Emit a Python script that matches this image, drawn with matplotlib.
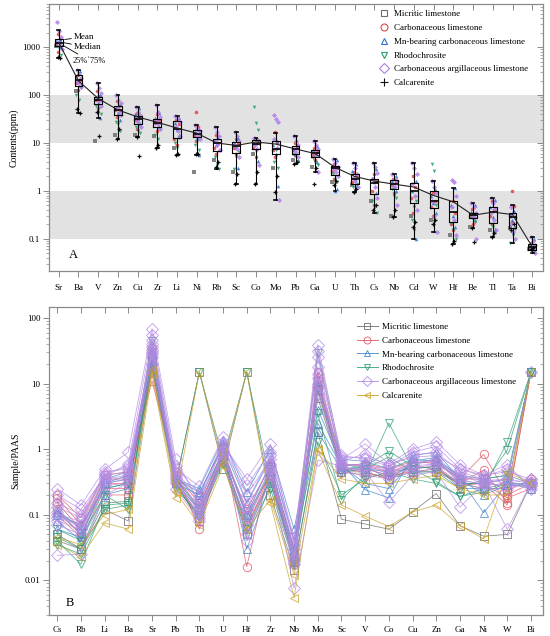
import numpy as np
import matplotlib
matplotlib.use("Agg")
import matplotlib.pyplot as plt
from matplotlib.lines import Line2D
from matplotlib.ticker import FixedLocator, FuncFormatter, LogLocator, NullFormatter

plt.rcParams['font.family'] = ['Liberation Serif', 'DejaVu Serif']
plt.rcParams['font.size'] = 6.5

# ---------------- Panel A data (ppm) ----------------
elems_A = ["Sr", "Ba", "V", "Zn", "Cu", "Zr", "Li", "Ni", "Rb", "Sc", "Co", "Mo", "Pb",
           "Ga", "U", "Th", "Cs", "Nb", "Cd", "W", "Hf", "Be", "Tl", "Ta", "Bi"]

box_q1 = [1080, 158, 65, 39, 25, 22, 12.5, 13.1, 6.9, 6.3, 7.4, 5.9, 5.9, 5.0, 2.1, 1.4,
          0.85, 1.07, 0.56, 0.44, 0.22, 0.27, 0.21, 0.165, 0.058]
box_med = [1250, 205, 80, 48, 32, 26, 20, 15.5, 9.8, 8.7, 9.5, 7.4, 7.4, 6.3, 2.95, 1.8,
           1.45, 1.36, 0.98, 0.6, 0.37, 0.31, 0.36, 0.29, 0.068]
box_q3 = [1470, 264, 93, 59, 36, 32, 29, 18.7, 12, 10.5, 11.5, 11, 8.7, 7.1, 3.3, 2.2,
          1.8, 1.68, 1.48, 0.98, 0.6, 0.34, 0.46, 0.34, 0.076]
box_lo = [590, 42, 34, 12, 13.6, 7.8, 5.6, 5.6, 2.8, 1.4, 1.4, 0.65, 3.6, 2.5, 1.0, 0.93,
          0.34, 0.28, 0.097, 0.14, 0.077, 0.165, 0.11, 0.08, 0.05]
box_hi = [2300, 336, 177, 100, 57, 62, 36, 24, 22, 17, 13, 16, 14, 11, 4.6, 3.9,
          3.9, 2.2, 3.8, 1.6, 1.15, 0.56, 0.71, 0.5, 0.11]
box_mean = [1250, 198, 85, 49, 35, 27, 20.5, 16, 10, 8.9, 10.5, 9.5, 7.5, 6.0, 3.1, 2.0,
            1.6, 1.38, 1.2, 0.8, 0.59, 0.31, 0.36, 0.32, 0.068]

# sample values per lithology (rows = samples, columns = elems_A)
A_micritic = [
    [1050, 120, 11, 15, 15, 14, 8, 2.5, 4.5, 2.5, 6, 3, 4.5, 3.2, 1.5, 1.3, 0.6, 0.3, 0.3, 0.25, 0.12, 0.18, 0.15, 0.17, 0.062],
]
A_carb = [
    [1900, 260, 120, 75, 42, 40, 30, 44, 15, 12, 12, 17, 10, 8, 3.6, 2.5, 2.2, 1.8, 2.0, 0.9, 0.6, 0.42, 0.6, 1.0, 0.08],
    [1500, 210, 95, 60, 35, 30, 25, 22, 10, 9.5, 10, 10, 8, 6.5, 3.0, 2.0, 1.6, 1.5, 1.2, 0.6, 0.35, 0.33, 0.4, 0.48, 0.07],
    [1200, 180, 80, 50, 30, 26, 12, 15, 8, 8, 8, 7, 7, 5.5, 2.6, 1.5, 1.0, 1.3, 0.7, 0.45, 0.2, 0.3, 0.3, 0.3, 0.065],
    [800, 130, 55, 35, 20, 18, 9, 11, 6, 6, 5, 5, 5.5, 4.5, 1.8, 0.93, 0.5, 0.9, 0.35, 0.3, 0.15, 0.2, 0.2, 0.22, 0.06],
]
A_mn = [
    [1450, 320, 100, 65, 55, 42, 33, 19, 13, 13, 11, 11, 9, 8.5, 4.5, 3.6, 2.8, 2.0, 1.6, 1.1, 1.15, 0.5, 0.65, 0.38, 0.1],
    [1350, 250, 85, 55, 40, 33, 26, 16, 11, 10, 9.5, 9, 7.5, 7, 3.3, 2.6, 1.9, 1.6, 1.0, 0.8, 0.5, 0.36, 0.45, 0.3, 0.075],
    [1150, 190, 70, 42, 32, 27, 20, 13, 9, 8.5, 7.5, 6, 6, 6, 1.0, 1.8, 1.5, 1.2, 0.5, 0.55, 0.3, 0.3, 0.28, 0.25, 0.065],
    [1000, 160, 34, 30, 25, 22, 15, 5.6, 7, 3, 4.2, 1.25, 4.5, 4, 1.1, 1.3, 0.9, 1.0, 0.097, 0.35, 0.18, 0.25, 0.16, 0.18, 0.055],
]
A_rhodo = [
    [1250, 100, 60, 28, 22, 15, 10, 9, 5, 2.8, 57, 4, 6, 4.8, 2.2, 1.2, 0.6, 1.1, 0.25, 3.6, 0.2, 0.29, 0.2, 0.08, 0.07],
    [950, 80, 45, 25, 18, 12, 8, 11, 3.5, 5, 26, 7, 5, 4, 1.8, 1.0, 0.45, 0.8, 0.15, 2.6, 0.15, 0.26, 0.18, 0.12, 0.06],
    [700, 140, 40, 18, 16, 20, 13, 7, 2.8, 6.5, 19, 3, 4, 3.5, 1.5, 1.4, 0.34, 0.7, 0.6, 0.5, 0.1, 0.22, 0.14, 0.16, 0.055],
]
A_argil = [
    [3330, 330, 177, 100, 57, 62, 36, 24, 22, 17, 13, 38, 14, 11, 4.6, 3.9, 3.9, 2.2, 3.8, 1.6, 1.7, 0.56, 0.71, 0.45, 0.11],
    [2200, 280, 140, 80, 45, 45, 32, 20, 17, 14, 12, 32, 11, 9, 3.8, 3.0, 3.2, 1.9, 3.0, 1.2, 1.5, 0.45, 0.55, 0.35, 0.09],
    [1600, 230, 110, 70, 38, 35, 28, 18, 14, 11, 10, 28, 9, 7.5, 3.2, 2.3, 2.4, 1.6, 2.2, 0.9, 0.8, 0.35, 0.42, 0.28, 0.075],
    [1300, 200, 90, 55, 33, 30, 22, 16, 11, 9, 9, 12, 7.5, 6.5, 2.9, 1.9, 1.8, 1.4, 1.4, 0.6, 0.45, 0.31, 0.35, 0.2, 0.068],
    [1100, 175, 75, 45, 28, 25, 18, 14, 9, 7.5, 7.5, 8, 6.5, 5.5, 2.5, 1.6, 1.2, 1.2, 0.8, 0.3, 0.25, 0.28, 0.25, 0.14, 0.06],
    [900, 150, 60, 38, 22, 20, 14, 12, 7, 5, 3.5, 0.65, 5, 2.5, 2.0, 1.2, 0.7, 0.5, 0.4, 0.14, 0.12, 0.1, 0.15, 0.1, 0.05],
]
A_calc = [
    [620, 52, 45, 12, 13.6, 7.8, 5.6, 6, 3.2, 1.4, 1.4, 0.93, 3.6, 1.4, 1.3, 0.95, 0.4, 0.28, 0.18, 0.2, 0.077, 0.165, 0.11, 0.15, 0.06],
    [590, 42, 14, 20, 5.4, 9, 6, 5.8, 4, 2.3, 2.5, 2, 4, 3, 1.6, 1.1, 0.5, 0.4, 0.22, 0.25, 0.09, 0.085, 0.13, 0.2, 0.065],
]

# ---------------- Panel B data (sample / PAAS) ----------------
elems_B = ["Cs", "Rb", "Li", "Ba", "Sr", "Pb", "Th", "U", "Hf", "Zr", "Nb", "Mo", "Sc",
           "V", "Co", "Cu", "Zn", "Ga", "Ni", "W", "Bi"]

B_micritic = [
    [0.05, 0.03, 0.12, 0.08, 18, 0.3, 15, 0.5, 15, 0.2, 0.0145, 1.8, 0.085, 0.072, 0.06, 0.11, 0.21, 0.068, 0.047, 0.05, 0.3],
    [0.04, 0.03, 0.15, 0.16, 22, 0.3, 0.08, 0.7, 0.05, 0.35, 0.02, 6, 0.45, 0.45, 0.35, 0.45, 0.45, 0.3, 0.25, 0.25, 15],
]
B_carb = [
    [0.2, 0.09, 0.4, 0.45, 11, 0.45, 0.06, 1.1, 0.016, 0.6, 0.02, 15, 0.6, 0.55, 0.45, 0.6, 0.65, 0.35, 0.83, 0.2, 0.3],
    [0.15, 0.06, 0.3, 0.3, 16, 0.3, 0.1, 0.9, 0.06, 0.45, 0.018, 9, 0.5, 0.45, 0.35, 0.5, 0.55, 0.3, 0.48, 0.15, 15],
    [0.12, 0.05, 0.25, 0.25, 20, 0.35, 0.13, 1.0, 0.1, 0.4, 0.025, 11, 0.45, 0.4, 0.4, 0.45, 0.5, 0.28, 0.3, 0.18, 0.25],
    [0.18, 0.07, 0.35, 0.35, 35, 0.4, 0.15, 0.8, 0.12, 0.55, 0.03, 12, 0.55, 0.6, 0.5, 0.65, 0.6, 0.35, 0.35, 0.23, 0.35],
    [0.1, 0.045, 0.2, 0.2, 26, 0.3, 0.09, 0.75, 0.07, 0.35, 0.022, 8, 0.5, 0.5, 0.4, 0.55, 0.5, 0.3, 0.3, 0.14, 15],
]
B_mn = [
    [0.11, 0.05, 0.3, 0.4, 28, 0.35, 0.25, 1.4, 0.22, 1.0, 0.06, 4, 0.6, 0.24, 0.18, 0.8, 0.9, 0.35, 0.107, 0.3, 0.3],
    [0.1, 0.07, 0.25, 0.3, 30, 0.3, 0.2, 1.2, 0.03, 0.3, 0.03, 1.8, 0.5, 0.55, 0.35, 0.6, 0.7, 0.3, 0.3, 0.35, 15],
    [0.08, 0.04, 0.2, 0.25, 24, 0.3, 0.12, 0.7, 0.08, 0.45, 0.022, 11, 0.45, 0.5, 0.45, 0.5, 0.55, 0.25, 0.25, 0.3, 0.25],
    [0.06, 0.045, 0.3, 0.35, 32, 0.4, 0.17, 0.9, 0.1, 0.6, 0.028, 9, 0.7, 0.65, 0.5, 0.7, 0.65, 0.4, 0.35, 0.4, 0.3],
    [0.12, 0.06, 0.35, 0.45, 22, 0.35, 0.22, 1.1, 0.15, 0.7, 0.04, 2.5, 0.55, 0.3, 0.25, 0.65, 0.75, 0.35, 0.2, 0.28, 0.28],
]
B_rhodo = [
    [0.04, 0.0175, 0.14, 0.15, 22, 0.3, 15, 0.7, 15, 0.3, 0.02, 3.5, 0.17, 0.4, 2.5, 0.5, 0.32, 0.19, 0.25, 1.3, 15],
    [0.045, 0.03, 0.2, 0.12, 30, 0.25, 0.1, 0.8, 0.06, 0.35, 0.02, 8, 0.45, 0.55, 0.93, 0.55, 0.5, 0.3, 0.3, 0.97, 15],
    [0.06, 0.04, 0.25, 0.3, 45, 0.35, 0.12, 1.0, 0.09, 0.5, 0.025, 29, 0.6, 0.5, 0.76, 0.45, 0.45, 0.25, 0.35, 0.4, 15],
    [0.035, 0.025, 0.12, 0.14, 18, 0.28, 0.09, 0.6, 0.05, 0.25, 0.018, 1.3, 0.2, 0.35, 0.45, 0.35, 0.3, 0.19, 0.22, 0.3, 0.28],
]
B_argil = [
    [0.25, 0.14, 0.49, 0.9, 69, 0.7, 0.15, 1.2, 0.35, 1.2, 0.035, 39, 0.7, 1.2, 0.6, 1.0, 1.3, 0.58, 0.4, 0.58, 0.25],
    [0.024, 0.025, 0.2, 0.3, 46, 0.5, 0.27, 1.55, 0.15, 0.8, 0.03, 31, 0.8, 0.7, 0.55, 0.8, 0.9, 0.45, 0.35, 0.3, 0.35],
    [0.1, 0.08, 0.4, 0.45, 36, 0.4, 0.12, 1.0, 0.1, 0.6, 0.025, 12, 0.6, 0.55, 0.5, 0.6, 0.7, 0.4, 0.3, 0.35, 0.3],
    [0.13, 0.09, 0.35, 0.4, 28, 0.35, 0.09, 0.8, 0.07, 0.5, 0.02, 9, 0.5, 0.5, 0.4, 0.5, 0.6, 0.35, 0.28, 0.3, 0.28],
    [0.09, 0.07, 0.45, 0.5, 25, 0.3, 0.1, 0.95, 0.05, 0.4, 0.0075, 0.68, 0.55, 0.45, 0.155, 0.4, 0.45, 0.13, 0.3, 0.06, 0.3],
    [0.07, 0.05, 0.3, 0.35, 20, 0.25, 0.08, 0.7, 0.04, 0.35, 0.018, 7, 0.45, 0.4, 0.35, 0.45, 0.5, 0.3, 0.25, 0.25, 0.32],
    [0.15, 0.1, 0.42, 0.55, 32, 0.45, 0.18, 1.1, 0.2, 0.7, 0.04, 18, 0.75, 0.75, 0.6, 0.75, 0.8, 0.5, 0.4, 0.45, 0.35],
    [0.11, 0.06, 0.28, 0.3, 40, 0.38, 0.13, 0.85, 0.12, 0.55, 0.023, 14, 0.55, 0.6, 0.45, 0.55, 0.6, 0.38, 0.33, 0.35, 15],
    [0.2, 0.12, 0.38, 0.6, 55, 0.55, 0.2, 1.3, 0.28, 0.9, 0.045, 25, 0.65, 0.85, 0.55, 0.9, 1.1, 0.5, 0.38, 0.5, 0.3],
    [0.08, 0.06, 0.33, 0.38, 30, 0.33, 0.11, 0.9, 0.09, 0.45, 0.021, 10, 0.6, 0.55, 0.42, 0.6, 0.65, 0.33, 0.3, 0.28, 0.27],
]
B_calc = [
    [0.035, 0.023, 0.075, 0.06, 14, 0.18, 15, 0.6, 15, 0.15, 0.0054, 0.97, 0.14, 0.095, 0.066, 0.11, 0.14, 0.068, 0.043, 0.45, 0.3],
    [0.045, 0.035, 0.1, 0.12, 16, 0.22, 0.07, 0.55, 0.06, 0.17, 0.012, 1.0, 0.35, 0.3, 0.3, 0.35, 0.4, 0.25, 0.2, 0.2, 15],
]

lith_names = ["Micritic limestone", "Carbonaceous limestone", "Mn-bearing carbonaceous limestone",
              "Rhodochrosite", "Carbonaceous argillaceous limestone", "Calcarenite"]

colA = ['#6e6e6e', '#e2434b', '#2f6fd2', '#27a065', '#b080e8', '#111111']
mkA = ['s', 'o', '^', 'v', 'D', '+']
colB = ['#6a6a6a', '#e05563', '#3f84c6', '#2d9f74', '#b58ae6', '#c9a227']
mkB = ['s', 'o', '^', 'v', 'D', '<']

A_sets = [A_micritic, A_carb, A_mn, A_rhodo, A_argil, A_calc]
B_sets = [B_micritic, B_carb, B_mn, B_rhodo, B_argil, B_calc]

W, H = 550, 636
fig = plt.figure(figsize=(W / 100, H / 100), dpi=100)
spine_col = '#8a8a8a'


def style_axes(ax, xpos, xlabels, xlim, ylim, yticks, xpad):
    ax.set_yscale('log')
    ax.set_xlim(*xlim)
    ax.set_ylim(*ylim)
    ax.set_xticks(xpos)
    ax.set_xticklabels(xlabels, fontsize=6.5)
    ax.yaxis.set_major_locator(FixedLocator(yticks))
    ax.yaxis.set_major_formatter(FuncFormatter(lambda v, p: ('%g' % v)))
    ax.yaxis.set_minor_locator(LogLocator(base=10, subs=np.arange(2, 10), numticks=20))
    ax.yaxis.set_minor_formatter(NullFormatter())
    ax.tick_params(axis='x', direction='out', length=4, width=0.7, color=spine_col, pad=xpad)
    ax.tick_params(axis='y', which='major', direction='out', length=4, width=0.7, color=spine_col, pad=2,
                   labelsize=6.5)
    ax.tick_params(axis='y', which='minor', direction='out', length=2, width=0.5, color=spine_col)
    for s in ax.spines.values():
        s.set_color(spine_col)
        s.set_linewidth(0.9)
    # inward ticks on top and right
    axt = ax.twiny()
    axt.set_xlim(*xlim)
    axt.set_xticks(xpos)
    axt.tick_params(axis='x', direction='in', length=4, width=0.7, color=spine_col, labeltop=False)
    axr = ax.twinx()
    axr.set_yscale('log')
    axr.set_ylim(*ylim)
    axr.yaxis.set_major_locator(FixedLocator(yticks))
    axr.yaxis.set_minor_locator(LogLocator(base=10, subs=np.arange(2, 10), numticks=20))
    axr.tick_params(axis='y', which='major', direction='in', length=4, width=0.7, color=spine_col,
                    labelright=False)
    axr.tick_params(axis='y', which='minor', direction='in', length=2, width=0.5, color=spine_col,
                    labelright=False)
    for a in (axt, axr):
        for s in a.spines.values():
            s.set_visible(False)


# ---------------- Panel A ----------------
axA = fig.add_axes([48.7 / W, 1 - 270.7 / H, 494.6 / W, 266.7 / H])
xA = np.arange(len(elems_A))
axA.axhspan(10, 100, color='#e2e2e2', zorder=0, lw=0)
axA.axhspan(0.1, 1, color='#e2e2e2', zorder=0, lw=0)

# scatter points with a fixed horizontal spread
all_rows = []
for li, rows in enumerate(A_sets):
    for r in rows:
        all_rows.append((li, r))
n_rows = len(all_rows)
for j, (li, r) in enumerate(all_rows):
    off = (((j * 7) % n_rows) / (n_rows - 1) - 0.5) * 0.30
    if mkA[li] == '+':
        axA.plot(xA + off, r, linestyle='none', marker='+', ms=3.5, mew=0.9, color=colA[li], zorder=3)
    else:
        axA.plot(xA + off, r, linestyle='none', marker=mkA[li], ms=2.6, mew=0,
                 color=colA[li], alpha=0.85, zorder=3)

stats = []
for i in range(len(elems_A)):
    stats.append(dict(med=box_med[i], q1=box_q1[i], q3=box_q3[i], whislo=box_lo[i],
                      whishi=box_hi[i], mean=box_mean[i], fliers=[]))
axA.bxp(stats, positions=xA, widths=0.4, showfliers=False, showmeans=False, patch_artist=False,
        boxprops=dict(color='black', lw=0.8), medianprops=dict(color='black', lw=1.2),
        whiskerprops=dict(color='black', lw=0.8), capprops=dict(color='black', lw=1.2),
        capwidths=0.14, manage_ticks=False, zorder=4)
axA.plot(xA, box_mean, color='#222222', lw=0.8, zorder=5)

style_axes(axA, xA, elems_A, (-0.51, 24.56), (0.0215, 8000), [0.1, 1, 10, 100, 1000], 5.5)
axA.set_ylabel('Contents(ppm)', fontsize=7, labelpad=3)

axA.annotate('Mean', xy=(0.3, 1450), xytext=(0.78, 1650), fontsize=6.5, va='center',
             arrowprops=dict(arrowstyle='-', color='black', lw=0.6, shrinkA=0, shrinkB=0))
axA.annotate('Median', xy=(0.22, 1250), xytext=(0.78, 1000), fontsize=6.5, va='center',
             arrowprops=dict(arrowstyle='-', color='black', lw=0.6, shrinkA=0, shrinkB=0))
axA.annotate('25%`75%', xy=(0.2, 1100), xytext=(0.72, 520), fontsize=6, va='center',
             arrowprops=dict(arrowstyle='-', color='black', lw=0.6, shrinkA=0, shrinkB=0))
axA.text(0.5, 0.045, 'A', fontsize=9, va='center')

hA = [Line2D([], [], linestyle='none', marker=mkA[k], ms=5 if mkA[k] != '+' else 6,
             mfc='none', mec=colA[k], mew=0.8) for k in range(6)]
axA.legend(hA, lith_names, loc='upper left', bbox_to_anchor=(0.669, 0.977), frameon=False,
           fontsize=6.5, borderpad=0, borderaxespad=0, handlelength=1.0, handletextpad=0.6,
           labelspacing=0.6)

# ---------------- Panel B ----------------
axB = fig.add_axes([48.7 / W, 1 - 615.3 / H, 494.6 / W, 308.3 / H])
xB = np.arange(len(elems_B))
for li, rows in enumerate(B_sets):
    for r in rows:
        axB.plot(xB, r, color=colB[li], lw=0.6, alpha=0.75, marker=mkB[li], ms=6,
                 mfc='none', mec=colB[li], mew=0.7, zorder=3)

style_axes(axB, xB, elems_B, (-0.36, 20.52), (0.00292, 147), [0.01, 0.1, 1, 10, 100], 4)
axB.set_ylabel('Sample/PAAS', fontsize=7, labelpad=3)
axB.text(0.37, 0.0045, 'B', fontsize=9, va='center')

hB = [Line2D([], [], color=colB[k], lw=0.7, marker=mkB[k], ms=5, mfc='none', mec=colB[k], mew=0.7,
             alpha=0.85) for k in range(6)]
axB.legend(hB, lith_names, loc='upper left', bbox_to_anchor=(0.623, 0.949), frameon=False,
           fontsize=6.5, borderpad=0, borderaxespad=0, handlelength=2.3, handletextpad=0.45,
           labelspacing=0.6)

fig.savefig('out.png', dpi=100)
